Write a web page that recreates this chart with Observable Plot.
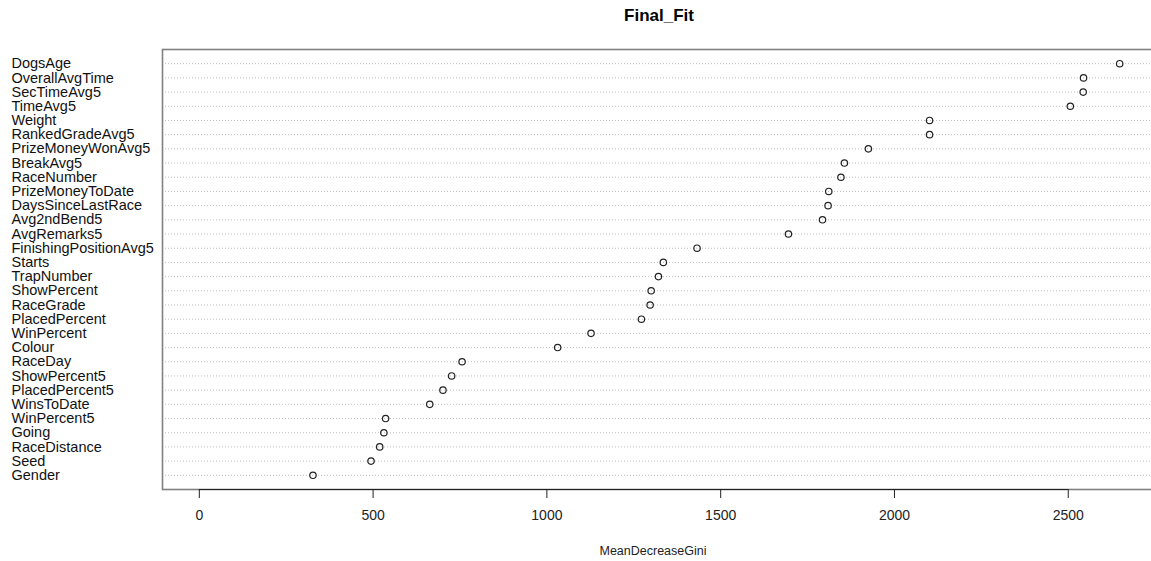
<!DOCTYPE html>
<html>
<head>
<meta charset="utf-8">
<script src="https://cdn.jsdelivr.net/npm/d3@7"></script>
<script src="https://cdn.jsdelivr.net/npm/@observablehq/plot@0.6"></script>
<style>
  html, body { margin: 0; padding: 0; background: #fff; }
  body { width: 1151px; height: 561px; overflow: hidden; position: relative; font-family: "Liberation Sans", Arial, sans-serif; }
  #chart { position: absolute; left: 0; top: 0; width: 1170px; }
  #chart svg { max-width: none !important; }
  .title { position: absolute; left: 162px; width: 994px; top: 7px; text-align: center; font-weight: bold; font-size: 17px; line-height: 17px; color: #000; }
  .xlabel { position: absolute; left: 553px; width: 200px; top: 545px; text-align: center; font-size: 12.5px; line-height: 12.5px; color: #222; }
</style>
</head>
<body>
<div id="chart"></div>
<div class="title">Final_Fit</div>
<div class="xlabel">MeanDecreaseGini</div>
<script>
const chartTitle = "Final_Fit";
const xLabel = "MeanDecreaseGini";

// Variables, top to bottom
const variables = [
  "DogsAge", "OverallAvgTime", "SecTimeAvg5", "TimeAvg5", "Weight",
  "RankedGradeAvg5", "PrizeMoneyWonAvg5", "BreakAvg5", "RaceNumber", "PrizeMoneyToDate",
  "DaysSinceLastRace", "Avg2ndBend5", "AvgRemarks5", "FinishingPositionAvg5", "Starts",
  "TrapNumber", "ShowPercent", "RaceGrade", "PlacedPercent", "WinPercent",
  "Colour", "RaceDay", "ShowPercent5", "PlacedPercent5", "WinsToDate",
  "WinPercent5", "Going", "RaceDistance", "Seed", "Gender"
];

// MeanDecreaseGini values
const meanDecreaseGini = [
  2648, 2544, 2543, 2506, 2101,
  2101, 1925, 1856, 1846, 1811,
  1809, 1793, 1695, 1432, 1335,
  1321, 1300, 1297, 1272, 1127,
  1031, 756, 726, 701, 663,
  536, 531, 519, 494, 327
];

const xTicks = [0, 500, 1000, 1500, 2000, 2500];

const data = variables.map((v, i) => ({variable: v, value: meanDecreaseGini[i]}));

const W = 1170, H = 561;
const mLeft = 162, mRight = 14, mTop = 49, mBottom = 72;
const maxVal = d3.max(meanDecreaseGini);
const innerH = H - mTop - mBottom;

const plot = Plot.plot({
  width: W,
  height: H,
  marginLeft: mLeft,
  marginRight: mRight,
  marginTop: mTop,
  marginBottom: mBottom,
  style: {fontFamily: "'Liberation Sans', Arial, sans-serif", background: "white", overflow: "visible", maxWidth: "none"},
  x: {domain: [-0.04 * maxVal, 1.04 * maxVal], round: false},
  y: {type: "point", domain: variables, padding: 1, round: false, axis: null},
  marks: [
    Plot.ruleY(variables, {y: d => d, stroke: "#bdbdbd", strokeWidth: 1, strokeDasharray: "1,2"}),
    Plot.frame({stroke: "#808080", strokeWidth: 1.6}),
    Plot.ruleY([0], {y: null, x1: d3.min(xTicks), x2: d3.max(xTicks), dy: innerH / 2, stroke: "#222", strokeWidth: 1}),
    Plot.axisX({ticks: xTicks, tickSize: 9, tickPadding: 12, fontSize: 14, stroke: "#222", fill: "#222", label: null, tickFormat: d => String(d)}),
    Plot.dot(data, {x: "value", y: "variable", r: 3.2, stroke: "#222", strokeWidth: 1.2, fill: "none"}),
    Plot.text(variables, {y: d => d, text: d => d, frameAnchor: "left", textAnchor: "start", dx: 11 - mLeft, fontSize: 14.5, fill: "#111"})
  ]
});
document.getElementById("chart").appendChild(plot);
</script>
</body>
</html>
